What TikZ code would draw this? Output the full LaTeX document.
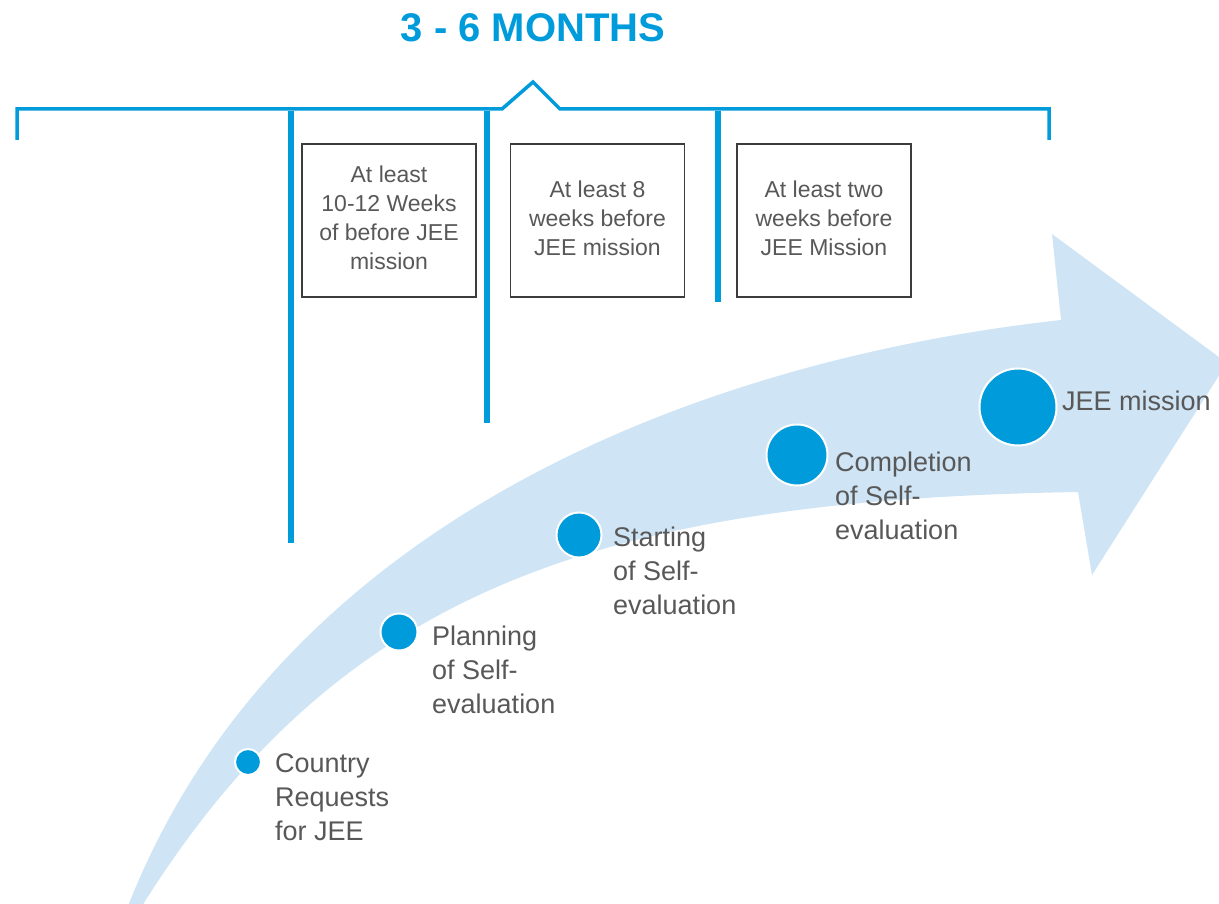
\documentclass[tikz,border=0pt]{standalone}
\usepackage{fontspec}
\setmainfont{Liberation Sans}
\definecolor{mainblue}{RGB}{0,155,219}
\definecolor{arrowblue}{RGB}{207,228,245}
\definecolor{labelgray}{RGB}{88,88,88}
\definecolor{boxgray}{RGB}{60,60,60}
\begin{document}
\begin{tikzpicture}[x=1pt,y=-1pt,
  bracket/.style={draw=mainblue,line width=3.5pt,line join=miter},
  tick/.style={draw=mainblue,line width=5.5pt},
  stepdot/.style={circle,fill=mainblue,draw=white,line width=2pt,inner sep=0pt},
  steplabel/.style={anchor=base west,inner sep=0pt,text=labelgray,font=\fontsize{27}{34}\selectfont},
  notebox/.style={draw=boxgray,line width=1.3pt,minimum width=174pt,minimum height=153pt,
    inner sep=0pt,text=labelgray,font=\fontsize{23}{29}\selectfont},
  title/.style={text=mainblue,font=\fontsize{40}{44}\selectfont\bfseries,inner sep=0pt}]
\useasboundingbox (0,0) rectangle (1219,904);
\clip (0,0) rectangle (1219,904);

% curved arrow in the background
\fill[arrowblue] (128,906) .. controls (280,520) and (700,360) .. (1061,320)
  -- (1052,234) -- (1227,363) -- (1092,575) -- (1078,492)
  .. controls (600,500) and (340,590) .. (142,906) -- cycle;

% title and bracket
\node[title] (t) at (533,28) {3 - 6 MONTHS};
\coordinate (bl) at (17,140);
\coordinate (br) at (1049,140);
\draw[bracket] (bl) -- (17,109) -- (502,109) -- (533,82) -- (560,109) -- (1049,109) -- (br);

% time markers hanging from the bracket
\coordinate (m1top) at (291,111);
\coordinate (m1bot) at (291,543);
\coordinate (m2top) at (487,111);
\coordinate (m2bot) at (487,423);
\coordinate (m3top) at (718,111);
\coordinate (m3bot) at (718,302);
\draw[tick] (m1top) -- (m1bot);
\draw[tick] (m2top) -- (m2bot);
\draw[tick] (m3top) -- (m3bot);

% notes
\node[notebox] (b1) at (389,220.5) {\raisebox{-4pt}{\begin{tabular}{@{}c@{}}At least\\10-12 Weeks\\of before JEE\\mission\end{tabular}}};
\node[notebox] (b2) at (597.5,220.5) {\raisebox{-4pt}{\begin{tabular}{@{}c@{}}At least 8\\weeks before\\JEE mission\end{tabular}}};
\node[notebox] (b3) at (824,220.5) {\raisebox{-4pt}{\begin{tabular}{@{}c@{}}At least two\\weeks before\\JEE Mission\end{tabular}}};

% milestones
\node[stepdot,minimum size=26pt] (c1) at (248,762) {};
\node[stepdot,minimum size=37pt] (c2) at (399,632) {};
\node[stepdot,minimum size=45pt] (c3) at (579,535) {};
\node[stepdot,minimum size=61pt] (c4) at (797,455) {};
\node[stepdot,minimum size=77pt] (c5) at (1018,407) {};

\node[steplabel] (l1) at (275,772) {\begin{tabular}[t]{@{}l@{}}Country\\Requests\\for JEE\end{tabular}};
\node[steplabel] (l2) at (432,645) {\begin{tabular}[t]{@{}l@{}}Planning\\of Self-\\evaluation\end{tabular}};
\node[steplabel] (l3) at (613,546) {\begin{tabular}[t]{@{}l@{}}Starting\\of Self-\\evaluation\end{tabular}};
\node[steplabel] (l4) at (835,471) {\begin{tabular}[t]{@{}l@{}}Completion\\of Self-\\evaluation\end{tabular}};
\node[steplabel] (l5) at (1062,410) {JEE mission};
\end{tikzpicture}
\end{document}
